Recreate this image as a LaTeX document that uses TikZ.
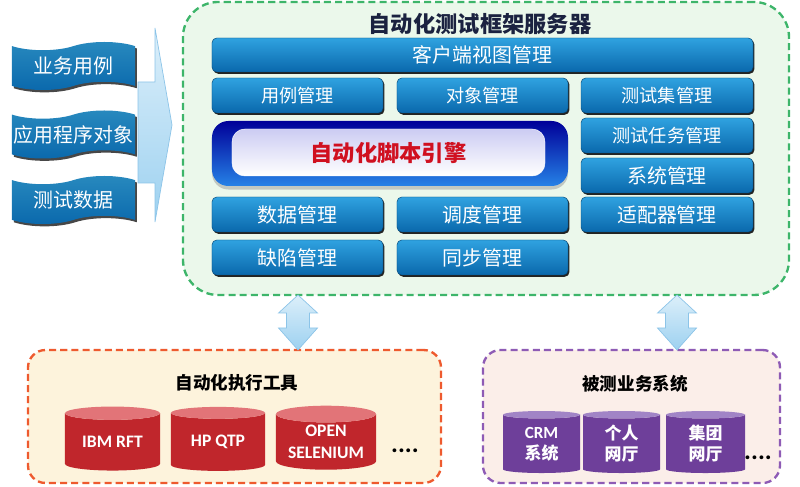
\documentclass[tikz,border=0pt]{standalone}
\usepackage{fontspec}
\newfontfamily\cjk{Noto Sans CJK SC}
\newfontfamily\lat{Carlito}
\usetikzlibrary{shapes.geometric, shapes.symbols, shadows}

\definecolor{btntop}{HTML}{2FA2E0}
\definecolor{btnbot}{HTML}{0A68AC}
\definecolor{srvline}{HTML}{3DB56A}
\definecolor{srvfill}{HTML}{EBF8EB}
\definecolor{toolline}{HTML}{EE5A2E}
\definecolor{toolfill}{HTML}{FDF3DC}
\definecolor{sysline}{HTML}{8E5BB5}
\definecolor{sysfill}{HTML}{FBEEE9}
\definecolor{toolred}{HTML}{C0262C}
\definecolor{toolredtop}{HTML}{E27478}
\definecolor{syspurple}{HTML}{6E3F9A}
\definecolor{syspurpletop}{HTML}{A184C6}
\definecolor{arrowtop}{HTML}{DCEFFA}
\definecolor{arrowbot}{HTML}{9DD1F0}
\definecolor{arrowline}{HTML}{8CC4E8}
\definecolor{navy}{HTML}{1B2240}

\tikzset{
    mgmt/.style={rounded corners=4pt, top color=btntop, bottom color=btnbot,
        draw=btnbot!70!black, minimum height=1.05cm, minimum width=5.13cm,
        text=white, font=\cjk\fontsize{17}{17}\selectfont,
        drop shadow={shadow xshift=1.2pt, shadow yshift=-1.5pt, fill=black, opacity=0.85}},
    banner/.style={tape, tape bend top=in and out, tape bend bottom=in and out,
        tape bend height=7pt, top color=btntop!85!black, bottom color=btnbot,
        minimum width=3.69cm, minimum height=1.44cm, inner sep=0pt,
        text=white, font=\cjk\fontsize{17}{17}\selectfont,
        drop shadow={shadow xshift=1.5pt, shadow yshift=-2pt, fill=black!80, opacity=0.9}},
    groupbox/.style={rounded corners=15pt, dashed, line width=2pt,
        dash pattern=on 6pt off 3.5pt},
    grouptitle/.style={font=\cjk\bfseries\fontsize{15}{15}\selectfont, text=black},
    toolcyl/.style={cylinder, shape border rotate=90, aspect=0.22,
        cylinder uses custom fill, cylinder body fill=toolred,
        cylinder end fill=toolredtop, minimum height=1.92cm, minimum width=2.85cm,
        inner sep=0pt, text=white, align=center,
        font=\lat\bfseries\fontsize{15}{19}\selectfont},
    syscyl/.style={cylinder, shape border rotate=90, aspect=0.22,
        cylinder uses custom fill, cylinder body fill=syspurple,
        cylinder end fill=syspurpletop, minimum height=1.86cm, minimum width=2.31cm,
        inner sep=0pt, text=white, align=center,
        font=\cjk\bfseries\fontsize{14.5}{18}\selectfont},
    dots/.style={font=\lat\bfseries\fontsize{22}{22}\selectfont},
    blockarrow/.style={top color=arrowtop, bottom color=arrowbot, draw=arrowline, line width=0.6pt}
}

\begin{document}
\begin{tikzpicture}[x=0.03cm, y=-0.03cm]
    \useasboundingbox (0,0) rectangle (800,487);

    % server frame
    \node[groupbox, rounded corners=30pt, draw=srvline, fill=srvfill,
        minimum width=18.18cm, minimum height=8.79cm] (server) at (486,148.5) {};
    \node[font=\cjk\bfseries\fontsize{19}{19}\selectfont, text=navy] (srvtitle) at (480,24) {自动化测试框架服务器};

    \node[mgmt, minimum width=16.23cm, minimum height=1.02cm] (client) at (482.5,55) {客户端视图管理};
    \node[mgmt, font=\cjk\fontsize{15.5}{15.5}\selectfont] (usecase) at (297.5,95.5) {用例管理};
    \node[mgmt, font=\cjk\fontsize{15.5}{15.5}\selectfont] (object) at (482.5,95.5) {对象管理};
    \node[mgmt, minimum width=5.16cm, font=\cjk\fontsize{15.5}{15.5}\selectfont] (testset) at (667,95.5) {测试集管理};
    \node[mgmt, minimum width=5.16cm, font=\cjk\fontsize{15.5}{15.5}\selectfont] (task) at (667,135.5) {测试任务管理};
    \node[mgmt, minimum width=5.16cm] (system) at (667,175.5) {系统管理};
    \node[mgmt, minimum width=5.16cm] (adapter) at (667,214.5) {适配器管理};
    \node[mgmt] (data) at (297.5,214.5) {数据管理};
    \node[mgmt] (schedule) at (482.5,214.5) {调度管理};
    \node[mgmt] (defect) at (297.5,257.5) {缺陷管理};
    \node[mgmt] (sync) at (482.5,257.5) {同步管理};

    % script engine
    \node[rounded corners=14pt, top color=blue!60!black, bottom color=btntop!80!blue,
        minimum width=10.68cm, minimum height=1.95cm,
        drop shadow={shadow xshift=0pt, shadow yshift=-3pt, fill=black!40, opacity=0.5}] (engine) at (390,153.5) {};
    \node[rounded corners=11pt, top color=gray!40!blue!25, bottom color=white, draw=white,
        minimum width=9.39cm, minimum height=1.41cm, text={rgb,255:red,208;green,16;blue,32},
        font=\cjk\bfseries\fontsize{19}{19}\selectfont] (enginetext) at (388.5,152.5) {自动化脚本引擎};

    % inputs
    \node[banner] (bizcase) at (73.5,66) {业务用例};
    \node[banner] (appobj) at (73.5,134.5) {应用程序对象};
    \node[banner] (testdata) at (73.5,200) {测试数据};
    \draw[blockarrow] (138,82) -- (155,82) -- (155,28) -- (172,125) -- (155,222)
        -- (155,183) -- (138,183) -- cycle;

    % tools
    \node[groupbox, draw=toolline, fill=toolfill,
        minimum width=12.39cm, minimum height=3.99cm] (tools) at (234.5,416.5) {};
    \node[grouptitle] (tooltitle) at (237,383) {自动化执行工具};
    \node[toolcyl] (rft) at (112.5,442) {IBM RFT};
    \node[toolcyl, minimum width=2.82cm] (qtp) at (218,442) {HP QTP};
    \node[toolcyl, minimum width=3.0cm] (selenium) at (326,442) {OPEN\\SELENIUM};
    \node[dots] (tooldots) at (405,451) {....};

    % systems under test
    \node[groupbox, draw=sysline, fill=sysfill,
        minimum width=8.91cm, minimum height=3.99cm] (systems) at (631.5,416.5) {};
    \node[grouptitle] (systitle) at (635,384) {被测业务系统};
    \node[syscyl] (crm) at (541.5,444) {\lat CRM\\系统};
    \node[syscyl] (personal) at (621.5,444) {个人\\网厅};
    \node[syscyl, minimum width=2.37cm] (group) at (705.5,444) {集团\\网厅};
    \node[dots] (sysdots) at (758,458) {....};

    % links to the server
    \foreach \ax in {298,677} {
        \draw[blockarrow] (\ax,295) -- (\ax+19.5,313) -- (\ax+11.5,313) -- (\ax+11.5,328)
            -- (\ax+19.5,328) -- (\ax,350) -- (\ax-19.5,328) -- (\ax-11.5,328)
            -- (\ax-11.5,313) -- (\ax-19.5,313) -- cycle;
    }
\end{tikzpicture}
\end{document}
